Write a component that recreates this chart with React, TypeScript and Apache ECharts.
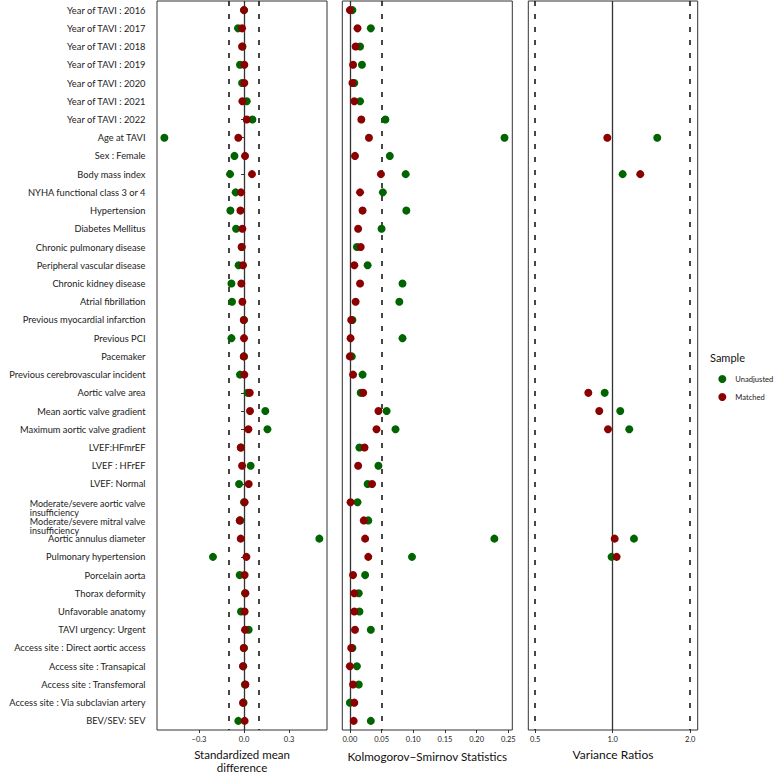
import React, { useEffect, useRef } from 'react';
import * as echarts from 'echarts';

// covariates, top to bottom
const rowLabels = [
  'Year of TAVI : 2016',
  'Year of TAVI : 2017',
  'Year of TAVI : 2018',
  'Year of TAVI : 2019',
  'Year of TAVI : 2020',
  'Year of TAVI : 2021',
  'Year of TAVI : 2022',
  'Age at TAVI',
  'Sex : Female',
  'Body mass index',
  'NYHA functional class 3 or 4',
  'Hypertension',
  'Diabetes Mellitus',
  'Chronic pulmonary disease',
  'Peripheral vascular disease',
  'Chronic kidney disease',
  'Atrial fibrillation',
  'Previous myocardial infarction',
  'Previous PCI',
  'Pacemaker',
  'Previous cerebrovascular incident',
  'Aortic valve area',
  'Mean aortic valve gradient',
  'Maximum aortic valve gradient',
  'LVEF:HFmrEF',
  'LVEF : HFrEF',
  'LVEF: Normal',
  'Moderate/severe aortic valve\ninsufficiency',
  'Moderate/severe mitral valve\ninsufficiency',
  'Aortic annulus diameter',
  'Pulmonary hypertension',
  'Porcelain aorta',
  'Thorax deformity',
  'Unfavorable anatomy',
  'TAVI urgency: Urgent',
  'Access site : Direct aortic access',
  'Access site : Transapical',
  'Access site : Transfemoral',
  'Access site : Via subclavian artery',
  'BEV/SEV: SEV',
];

// standardized mean differences
const smdUnadjusted = [
  0.0, -0.04, -0.01, -0.027, -0.013, 0.018, 0.056, -0.531, -0.064, -0.093,
  -0.056, -0.091, -0.053, -0.015, -0.036, -0.084, -0.08, 0.0, -0.084, 0.0,
  -0.027, 0.024, 0.142, 0.156, -0.02, 0.044, -0.033, 0.0, -0.025, 0.502,
  -0.207, -0.029, 0.007, -0.02, 0.031, 0.0, -0.005, 0.006, -0.003, -0.038,
];
const smdMatched = [
  0.0, -0.013, -0.013, 0.002, 0.002, -0.011, 0.018, -0.038, 0.007, 0.053,
  -0.02, -0.024, -0.011, -0.016, -0.007, -0.018, -0.011, -0.002, 0.0, -0.002,
  0.002, 0.038, 0.04, 0.029, -0.022, -0.013, 0.031, 0.004, -0.029, -0.022,
  0.016, 0.004, 0.009, 0.004, 0.007, -0.002, -0.007, 0.009, -0.007, 0.004,
];

// Kolmogorov-Smirnov statistics
const ksUnadjusted = [
  0.004, 0.033, 0.016, 0.019, 0.007, 0.016, 0.056, 0.244, 0.063, 0.088,
  0.052, 0.089, 0.05, 0.011, 0.028, 0.083, 0.078, 0.004, 0.083, 0.003,
  0.02, 0.017, 0.058, 0.072, 0.015, 0.045, 0.028, 0.012, 0.029, 0.228,
  0.098, 0.024, 0.014, 0.015, 0.033, 0.004, 0.011, 0.014, 0.0, 0.033,
];
const ksMatched = [
  0.0, 0.012, 0.009, 0.005, 0.004, 0.007, 0.018, 0.03, 0.008, 0.049,
  0.016, 0.02, 0.013, 0.017, 0.007, 0.016, 0.009, 0.002, 0.001, 0.0,
  0.005, 0.021, 0.045, 0.042, 0.023, 0.013, 0.035, 0.001, 0.022, 0.024,
  0.029, 0.005, 0.007, 0.007, 0.008, 0.002, 0.0, 0.005, 0.007, 0.006,
];

// variance ratios (continuous covariates only)
const N = null;
const vrUnadjusted = [
  N, N, N, N, N, N, N, 1.49, N, 1.093,
  N, N, N, N, N, N, N, N, N, N,
  N, 0.931, 1.07, 1.16, N, N, N, N, N, 1.21,
  0.99, N, N, N, N, N, N, N, N, N,
];
const vrMatched = [
  N, N, N, N, N, N, N, 0.953, N, 1.28,
  N, N, N, N, N, N, N, N, N, N,
  N, 0.804, 0.887, 0.959, N, N, N, N, N, 1.018,
  1.036, N, N, N, N, N, N, N, N, N,
];

const smdTicks = [-0.3, 0, 0.3];
const ksTicks = [0, 0.05, 0.1, 0.15, 0.2, 0.25];
const vrTicks = [0.5, 1, 2];

const FONT = 'Lato';
const GREEN = '#006400';
const RED = '#8B0000';
const INK = '#333';

const toPoints = (vals: (number | null)[]) =>
  vals
    .map((v, i) => (v === null ? null : [v, i]))
    .filter((p) => p !== null) as number[][];

const App: React.FC = () => {
  const chartRef = useRef<HTMLDivElement>(null);

  useEffect(() => {
    if (!chartRef.current) return;
    const chart = echarts.init(chartRef.current, null, { renderer: 'svg' });

    const gridTop = 1;
    const gridHeight = 729;
    const panels = [
      { left: 157, width: 170 },
      { left: 342.3, width: 170 },
      { left: 528.3, width: 169.4 },
    ];

    // fixed panel boxes: don't let echarts shrink them to fit the labels
    const grids = panels.map((p) => ({
      left: p.left,
      width: p.width,
      top: gridTop,
      height: gridHeight,
      outerBoundsMode: 'none',
      containLabel: false,
      show: true,
      borderColor: INK,
      borderWidth: 1,
      backgroundColor: 'transparent',
    }));

    const tickStyle = {
      show: true,
      length: 3,
      lineStyle: { color: INK, width: 1 },
    };
    const tickLabel = {
      fontFamily: FONT,
      fontSize: 7.5,
      color: '#222',
      margin: 5.5,
    };
    const nameStyle = {
      fontFamily: FONT,
      fontSize: 11.7,
      lineHeight: 13,
      color: '#111',
    };
    const minus = (v: number, d: number) =>
      (v < 0 ? '\u2212' : '') + Math.abs(v).toFixed(d);

    const xAxes = [
      {
        gridIndex: 0,
        type: 'value',
        min: -0.58,
        max: 0.553,
        name: 'Standardized mean\ndifference',
        nameLocation: 'middle',
        nameGap: 12.5,
        nameTextStyle: { ...nameStyle, fontSize: 11.5 },
        axisLine: { show: false },
        splitLine: { show: false },
        axisTick: { ...tickStyle, customValues: smdTicks },
        axisLabel: {
          ...tickLabel,
          customValues: smdTicks,
          formatter: (v: number) => minus(v, 1),
        },
      },
      {
        gridIndex: 1,
        type: 'value',
        min: -0.012,
        max: 0.2563,
        name: 'Kolmogorov\u2212Smirnov Statistics',
        nameLocation: 'middle',
        nameGap: 19,
        nameTextStyle: nameStyle,
        axisLine: { show: false },
        splitLine: { show: false },
        axisTick: { ...tickStyle, customValues: ksTicks },
        axisLabel: {
          ...tickLabel,
          customValues: ksTicks,
          formatter: (v: number) => v.toFixed(2),
        },
      },
      {
        gridIndex: 2,
        type: 'log',
        logBase: 2,
        min: 0.47,
        max: 2.14,
        name: 'Variance Ratios',
        nameLocation: 'middle',
        nameGap: 16.5,
        nameTextStyle: { ...nameStyle, fontSize: 12 },
        axisLine: { show: false },
        splitLine: { show: false },
        minorTick: { show: false },
        axisTick: { ...tickStyle, customValues: vrTicks },
        axisLabel: {
          ...tickLabel,
          customValues: vrTicks,
          formatter: (v: number) => v.toFixed(1),
        },
      },
    ];

    const yAxes = [0, 1, 2].map((g) => ({
      gridIndex: g,
      type: 'category',
      inverse: true,
      data: rowLabels,
      axisLine: { show: false },
      splitLine: { show: false },
      axisTick:
        g === 0
          ? { show: true, alignWithLabel: true, length: 3, lineStyle: { color: INK } }
          : { show: false },
      axisLabel:
        g === 0
          ? {
              show: true,
              interval: 0,
              margin: 11.5,
              fontFamily: FONT,
              fontSize: 9.3,
              color: '#222',
              // two-line labels: left-aligned block, first line near the tick
              formatter: (v: string) => {
                if (!v.includes('\n')) return v;
                const [a, b] = v.split('\n');
                return `{s| }\n{m|${a}}\n{m|${b}}`;
              },
              rich: {
                s: { fontSize: 4, lineHeight: 11 },
                m: {
                  fontFamily: FONT,
                  fontSize: 9,
                  lineHeight: 9.4,
                  color: '#222',
                  align: 'left',
                },
              },
            }
          : { show: false },
    }));

    const refLine = (x: number, dashed: boolean) => ({
      xAxis: x,
      lineStyle: dashed
        ? { type: [5, 8], width: 1.6, color: '#1a1a1a' }
        : { type: 'solid', width: 1.3, color: INK },
    });

    const refLines = [
      [refLine(0, false), refLine(-0.1, true), refLine(0.1, true)],
      [refLine(0, false), refLine(0.05, true)],
      [refLine(1, false), refLine(0.5, true), refLine(2, true)],
    ];

    const pairs = [
      [smdUnadjusted, smdMatched],
      [ksUnadjusted, ksMatched],
      [vrUnadjusted, vrMatched],
    ];

    const series: any[] = [];
    pairs.forEach(([unadj, matched], g) => {
      series.push({
        name: 'Unadjusted',
        type: 'scatter',
        xAxisIndex: g,
        yAxisIndex: g,
        symbol: 'circle',
        symbolSize: 8,
        itemStyle: { color: GREEN, opacity: 1 },
        data: toPoints(unadj),
        z: 3,
        markLine: {
          silent: true,
          symbol: ['none', 'none'],
          label: { show: false },
          z: 1,
          data: refLines[g],
        },
      });
      series.push({
        name: 'Matched',
        type: 'scatter',
        xAxisIndex: g,
        yAxisIndex: g,
        symbol: 'circle',
        symbolSize: 8,
        itemStyle: { color: RED, opacity: 1 },
        data: toPoints(matched),
        z: 4,
      });
    });

    const option: any = {
      animation: false,
      backgroundColor: '#fff',
      textStyle: { fontFamily: FONT },
      title: {
        text: 'Sample',
        left: 710,
        top: 352,
        padding: 0,
        textStyle: {
          fontFamily: FONT,
          fontSize: 11,
          fontWeight: 'normal',
          color: '#111',
        },
      },
      legend: {
        orient: 'vertical',
        left: 718.3,
        top: 375,
        padding: 0,
        itemWidth: 16,
        itemHeight: 8,
        itemGap: 10,
        icon: 'circle',
        selectedMode: false,
        data: ['Unadjusted', 'Matched'],
        textStyle: { fontFamily: FONT, fontSize: 7.6, color: '#222' },
      },
      grid: grids,
      xAxis: xAxes,
      yAxis: yAxes,
      series,
    };

    chart.setOption(option);

    return () => {
      chart.dispose();
    };
  }, []);

  return (
    <div
      ref={chartRef}
      style={{
        position: 'fixed',
        left: 0,
        top: 0,
        width: '783px',
        height: '773px',
        backgroundColor: '#fff',
      }}
    />
  );
};

export default App;
